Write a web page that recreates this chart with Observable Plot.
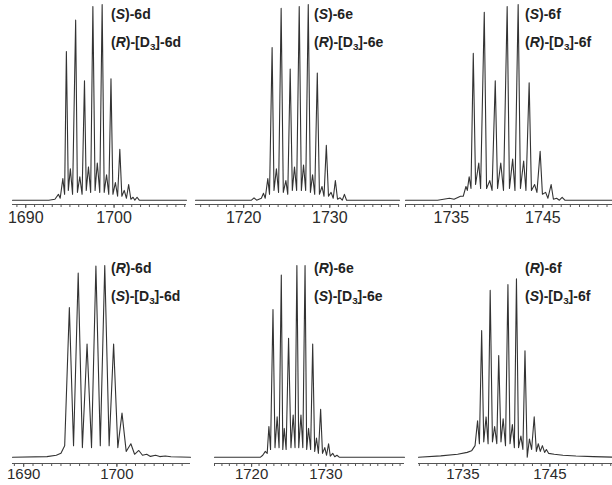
<!DOCTYPE html>
<html><head><meta charset="utf-8">
<script src="https://cdn.jsdelivr.net/npm/d3@7"></script>
<script src="https://cdn.jsdelivr.net/npm/@observablehq/plot@0.6"></script>
<style>
html,body{margin:0;padding:0;background:#fff;}
#wrap{position:relative;width:612px;height:485px;overflow:hidden;background:#fff;}
.pnl{position:absolute;}
.lab{position:absolute;font-family:"Liberation Sans",Arial,sans-serif;font-weight:bold;font-size:14px;color:#222;white-space:nowrap;line-height:1;}
.lab sub{font-size:70%;vertical-align:-0.3em;line-height:0;}
</style></head><body>
<div id="wrap"></div>
<script>
// ---- data: spectra vertices (m/z, relative intensity) ----
const mzA = [1688.5,1692.6,1693.3,1693.7,1693.9,1694.2,1694.4,1694.6,1694.82,1695.05,1695.3,1695.65,1695.85,1696.12,1696.38,1696.65,1696.85,1697.1,1697.35,1697.6,1697.85,1698.1,1698.38,1698.65,1698.88,1699.15,1699.4,1699.65,1699.87,1700.15,1700.4,1700.65,1700.88,1701.15,1701.4,1701.65,1701.9,1702.15,1702.35,1702.6,1702.85,1708.2];
const inA = [0,0,0.005,0.03,0.01,0.11,0.03,0.76,0.05,0.16,0.03,0.92,0.04,0.12,0.03,0.61,0.05,0.17,0.04,0.99,0.05,0.19,0.04,1.0,0.04,0.13,0.03,0.62,0.03,0.09,0.02,0.26,0.02,0.05,0.01,0.08,0.005,0.015,0,0.015,0,0];

const mzB = [1714.4,1720.9,1721.2,1721.5,1722.05,1722.3,1722.5,1722.8,1723.0,1723.3,1723.52,1723.8,1724.05,1724.35,1724.6,1724.9,1725.12,1725.4,1725.65,1725.9,1726.15,1726.45,1726.7,1726.95,1727.2,1727.5,1727.75,1728.0,1728.25,1728.55,1728.8,1729.1,1729.33,1729.6,1729.85,1730.15,1730.4,1730.65,1730.9,1731.2,1731.45,1731.7,1731.95,1738.1];
const inB = [0,0,0.012,0,0.01,0.035,0.01,0.11,0.03,0.78,0.05,0.16,0.04,0.98,0.04,0.1,0.03,0.67,0.05,0.17,0.05,0.99,0.05,0.18,0.05,1.0,0.04,0.13,0.03,0.65,0.03,0.07,0.02,0.28,0.02,0.04,0.01,0.1,0.005,0.012,0,0.03,0,0];

const mzC = [1730.0,1733.5,1734.8,1735.3,1736.0,1736.3,1736.6,1736.75,1736.95,1737.15,1737.4,1737.65,1738.0,1738.2,1738.6,1738.85,1739.2,1739.45,1739.8,1740.05,1740.4,1740.7,1741.1,1741.35,1741.7,1741.95,1742.3,1742.55,1742.9,1743.15,1743.5,1743.75,1744.1,1744.35,1744.7,1744.95,1745.3,1745.55,1745.9,1746.15,1746.5,1746.8,1747.1,1747.4,1752.6];
const inC = [0,0,0.01,0.005,0.02,0.02,0.07,0.05,0.12,0.06,0.75,0.08,0.19,0.06,0.96,0.06,0.1,0.05,0.61,0.06,0.19,0.05,0.99,0.06,0.21,0.05,1.0,0.06,0.2,0.05,0.6,0.05,0.08,0.04,0.25,0.03,0.04,0.01,0.08,0.005,0.01,0,0.015,0,0];

const mzD = [1688.8,1692.5,1693.5,1694.0,1694.4,1694.9,1695.35,1695.85,1696.3,1696.8,1697.28,1697.75,1698.22,1698.7,1699.17,1699.65,1700.1,1700.55,1701.0,1701.5,1701.9,1702.35,1702.75,1703.2,1703.6,1704.15,1704.6,1705.2,1705.8,1707.9];
const inD = [0,0.003,0.01,0.02,0.06,0.78,0.06,0.96,0.05,0.59,0.05,0.997,0.06,1.0,0.06,0.59,0.05,0.23,0.03,0.07,0.015,0.035,0.01,0.015,0.004,0.01,0.003,0.006,0.002,0];

const mzE = [1715.0,1721.2,1721.5,1721.85,1722.1,1722.33,1722.55,1722.88,1723.15,1723.44,1723.7,1724.0,1724.2,1724.4,1724.65,1724.98,1725.3,1725.6,1725.85,1726.1,1726.35,1726.65,1726.9,1727.2,1727.42,1727.67,1727.95,1728.23,1728.5,1728.74,1729.0,1729.3,1729.55,1729.86,1730.1,1730.37,1730.6,1730.93,1731.2,1731.5,1731.8,1740.6];
const inE = [0,0,0.01,0.03,0.02,0.16,0.04,0.77,0.05,0.21,0.05,0.95,0.04,0.15,0.04,0.62,0.05,0.22,0.05,1.0,0.05,0.22,0.05,1.0,0.04,0.15,0.04,0.59,0.03,0.1,0.02,0.25,0.02,0.05,0.01,0.07,0.005,0.02,0.002,0.01,0,0];

const mzF = [1729.9,1732.45,1734.4,1735.5,1736.0,1736.4,1736.69,1736.9,1737.16,1737.4,1737.67,1737.9,1738.14,1738.4,1738.65,1738.9,1739.12,1739.38,1739.63,1739.9,1740.18,1740.42,1740.69,1740.92,1741.16,1741.4,1741.67,1741.9,1742.14,1742.4,1742.65,1742.9,1743.2,1743.45,1743.67,1743.9,1744.14,1744.4,1744.6,1744.85,1745.5,1746.5,1748.0,1750.0,1752.2];
const inF = [0,0.007,0.015,0.025,0.033,0.06,0.19,0.07,0.66,0.08,0.21,0.07,0.87,0.08,0.16,0.07,0.53,0.08,0.2,0.06,0.9,0.07,0.17,0.05,0.93,0.05,0.11,0.04,0.555,0,0.095,0.04,0.21,0.03,0.07,0.03,0.06,0.025,0.04,0.02,0.015,0.01,0.006,0.003,0];

// tick labels per panel
const ticksA = [1690, 1700], ticksB = [1720, 1730], ticksC = [1735, 1745];
const ticksD = [1690, 1700], ticksE = [1720, 1730], ticksF = [1735, 1745];

// panel labels: [first enantiomer, compound, deuterated enantiomer]
const labTop = [["S","6d","R"],["S","6e","R"],["S","6f","R"]];
const labBot = [["R","6d","S"],["R","6e","S"],["R","6f","S"]];

// ---- layout ----
const rowTop = {top: 0, h: 240, mt: 4, mb: 36, ymin: -0.022, pad: 3, fs: 16, lab1: 7, lab2: 35};
const rowBot = {top: 245, h: 240, mt: 20, mb: 22, ymin: -0.033, pad: 1, fs: 15, lab1: 261, lab2: 289};

const panels = [
  {mz: mzA, it: inA, ticks: ticksA, row: rowTop, left: 12, right: 186, dom: [1688.5, 1708.2], labX: 111, lab: labTop[0]},
  {mz: mzB, it: inB, ticks: ticksB, row: rowTop, left: 195, right: 399, dom: [1714.4, 1738.1], labX: 314, lab: labTop[1]},
  {mz: mzC, it: inC, ticks: ticksC, row: rowTop, left: 405, right: 612, dom: [1730.0, 1752.6], labX: 525, lab: labTop[2]},
  {mz: mzD, it: inD, ticks: ticksD, row: rowBot, left: 12, right: 190, dom: [1688.8, 1707.9], labX: 111, lab: labBot[0]},
  {mz: mzE, it: inE, ticks: ticksE, row: rowBot, left: 214, right: 404, dom: [1715.0, 1740.6], labX: 314, lab: labBot[1]},
  {mz: mzF, it: inF, ticks: ticksF, row: rowBot, left: 418, right: 612, dom: [1729.9, 1752.2], labX: 525, lab: labBot[2]}
];

const wrap = document.getElementById("wrap");
for (const p of panels) {
  const data = p.mz.map((x, i) => ({mz: x, v: p.it[i]}));
  const r = p.row;
  const minor = d3.range(Math.ceil(p.dom[0]), Math.floor(p.dom[1]) + 1);
  const chart = Plot.plot({
    width: p.right - p.left,
    height: r.h,
    marginLeft: 0, marginRight: 0, marginTop: r.mt, marginBottom: r.mb,
    x: {domain: p.dom, label: null},
    y: {domain: [r.ymin, 1], axis: null},
    style: {fontFamily: "'Liberation Sans', Arial, sans-serif", fontSize: r.fs + "px", color: "#333", background: "transparent", overflow: "visible"},
    marks: [
      Plot.ruleY([r.ymin], {stroke: "#555", strokeWidth: 1}),
      Plot.axisX({ticks: minor, tickSize: 3, tickFormat: () => "", stroke: "#555", label: null}),
      Plot.axisX({ticks: p.ticks, tickSize: 4, tickPadding: r.pad, tickFormat: d => String(d), stroke: "#555", fill: "#2a2a2a", fontSize: r.fs, label: null}),
      Plot.line(data, {x: "mz", y: "v", stroke: "#333", strokeWidth: 1.1, curve: "linear"})
    ]
  });
  chart.classList.add("pnl");
  chart.style.left = p.left + "px";
  chart.style.top = r.top + "px";
  wrap.appendChild(chart);

  const l1 = document.createElement("div");
  l1.className = "lab";
  l1.style.left = p.labX + "px";
  l1.style.top = r.lab1 + "px";
  l1.innerHTML = `(<i>${p.lab[0]}</i>)-${p.lab[1]}`;
  wrap.appendChild(l1);
  const l2 = document.createElement("div");
  l2.className = "lab";
  l2.style.left = p.labX + "px";
  l2.style.top = r.lab2 + "px";
  l2.innerHTML = `(<i>${p.lab[2]}</i>)-[D<sub>3</sub>]-${p.lab[1]}`;
  wrap.appendChild(l2);
}
</script>
</body></html>
